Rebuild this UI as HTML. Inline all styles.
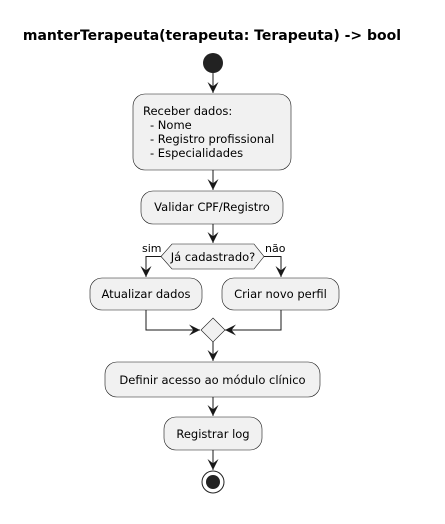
<!DOCTYPE html>
<html><head><meta charset="utf-8"><style>
body{margin:0;background:#fff;width:445px;height:519px;overflow:hidden}
svg text{font-family:"DejaVu Sans","Liberation Sans",sans-serif;font-size:11.5px;fill:#000}
</style></head><body>
<svg width="445" height="519" viewBox="0 0 445 519" xmlns="http://www.w3.org/2000/svg">
<defs><marker id="a" viewBox="0 0 10 10" refX="10" refY="5" markerWidth="11" markerHeight="11" markerUnits="userSpaceOnUse" orient="auto"><path d="M0,0 L10,5 L0,10 L4,5 Z" fill="#181818"/></marker></defs>
<text x="212" y="40" text-anchor="middle" style="font-size:14px;font-weight:bold">manterTerapeuta(terapeuta: Terapeuta) -&gt; bool</text>
<g stroke="#181818" stroke-width="1" fill="none">
<line x1="213" y1="73" x2="213" y2="93" marker-end="url(#a)"/>
<line x1="213" y1="170" x2="213" y2="190" marker-end="url(#a)"/>
<line x1="213" y1="224" x2="213" y2="243" marker-end="url(#a)"/>
<polyline points="161,256.5 146,256.5 146,277" marker-end="url(#a)"/>
<polyline points="264,256.5 281,256.5 281,277" marker-end="url(#a)"/>
<polyline points="146,310 146,330 200,330" marker-end="url(#a)"/>
<polyline points="281,310 281,330 225,330" marker-end="url(#a)"/>
<line x1="213" y1="342" x2="213" y2="361" marker-end="url(#a)"/>
<line x1="213" y1="397" x2="213" y2="416" marker-end="url(#a)"/>
<line x1="213" y1="450" x2="213" y2="470" marker-end="url(#a)"/>
</g>
<circle cx="213" cy="63" r="10" fill="#222"/>
<g fill="#f1f1f1" stroke="#181818" stroke-width="0.6">
<rect x="133" y="94" width="158" height="76" rx="12"/>
<rect x="141" y="191" width="142" height="33" rx="12"/>
<polygon points="161,256.5 172,244 254,244 264,256.5 254,269 172,269"/>
<rect x="90" y="278" width="112" height="32" rx="12"/>
<rect x="222" y="278" width="117" height="32" rx="12"/>
<polygon points="213,318 225,330 213,342 201,330"/>
<rect x="105" y="362" width="215" height="35" rx="12"/>
<rect x="164" y="417" width="98" height="33" rx="12"/>
</g>
<circle cx="213" cy="482" r="11" fill="none" stroke="#222" stroke-width="1"/>
<circle cx="213" cy="482" r="7" fill="#222"/>
<text x="143" y="115">Receber dados:</text>
<text x="150" y="129">- Nome</text>
<text x="150" y="143">- Registro profissional</text>
<text x="150" y="157">- Especialidades</text>
<text x="212" y="211" text-anchor="middle">Validar CPF/Registro</text>
<text x="213" y="261" text-anchor="middle">Já cadastrado?</text>
<text x="142" y="252" style="font-size:11px">sim</text>
<text x="265" y="252" style="font-size:11px">não</text>
<text x="146" y="298" text-anchor="middle">Atualizar dados</text>
<text x="280.5" y="298" text-anchor="middle">Criar novo perfil</text>
<text x="212.5" y="384" text-anchor="middle">Definir acesso ao módulo clínico</text>
<text x="213" y="438" text-anchor="middle">Registrar log</text>
</svg>
</body></html>
